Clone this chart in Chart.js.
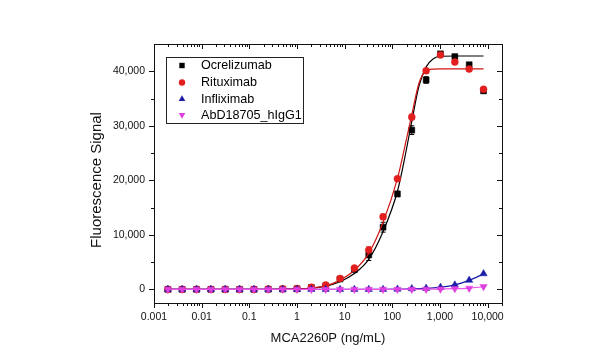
<!DOCTYPE html>
<html><head><meta charset="utf-8">
<script src="https://cdn.jsdelivr.net/npm/chart.js@4/dist/chart.umd.min.js"></script>
<style>html,body{margin:0;padding:0;background:#fff;}</style>
</head><body>
<canvas id="c" width="600" height="355"></canvas>
<script>
// ---- data ----
const concentrations = [0.001953, 0.003906, 0.007813, 0.015625, 0.03125, 0.0625, 0.125, 0.25, 0.5, 1, 2, 4, 8, 16, 32, 64, 128, 256, 512, 1024, 2048, 4096, 8192];
const ocrelizumab     = [0, 0, 0, 0, 0, 0, 0, 20, 50, 100, 350, 600, 1900, 3600, 6300, 11400, 17500, 29200, 38400, 43200, 42700, 41200, 36400];
const ocrelizumabErr  = [0, 0, 0, 0, 0, 0, 0, 0, 0, 0, 100, 150, 200, 300, 1000, 900, 500, 800, 600, 300, 300, 400, 400];
const rituximab       = [0, 0, 0, 0, 0, 0, 0, 50, 100, 150, 400, 800, 2000, 3900, 7200, 13300, 20300, 31600, 40100, 43000, 41700, 40400, 36700];
const rituximabErr    = [0, 0, 0, 0, 0, 0, 0, 0, 0, 0, 100, 150, 200, 300, 600, 500, 400, 500, 400, 300, 400, 400, 400];
const infliximab      = [0, 0, 0, 0, 0, 0, 0, 0, 0, 0, 0, 0, 0, 0, 0, 0, 50, 130, 200, 380, 810, 1670, 2870];
const abd18705        = [0, 0, 0, 0, 0, 0, 0, 0, 0, 0, 0, 0, 0, 0, 0, 0, 0, 0, 20, 50, 130, 200, 500];

const fitConcentrations = [0.001953, 0.003906, 0.007813, 0.015625, 0.03125, 0.0625, 0.125, 0.25, 0.5, 1, 2, 4, 8, 16, 32, 64, 128, 181, 256, 362, 512, 724, 1024, 2048, 4096, 8192];
const ocrelizumabFit  = [0, 0, 0, 0, 0, 5, 10, 20, 40, 100, 250, 600, 1400, 2900, 5500, 10600, 18000, 24000, 30800, 37300, 40800, 42300, 42750, 42800, 42800, 42800];
const rituximabFit    = [0, 0, 0, 0, 0, 5, 10, 20, 40, 100, 250, 650, 1700, 3500, 6600, 12300, 20300, 26000, 32000, 37800, 40100, 40400, 40450, 40450, 40450, 40450];
const infliximabFit   = [0, 0, 0, 0, 0, 0, 0, 0, 0, 0, 0, 0, 0, 0, 0, 10, 40, 60, 100, 140, 200, 280, 400, 830, 1650, 2850];
const abd18705Fit     = [0, 0, 0, 0, 0, 0, 0, 0, 0, 0, 0, 0, 0, 0, 0, 0, 0, 5, 10, 15, 25, 35, 60, 120, 230, 480];

const seriesNames = ['Ocrelizumab', 'Rituximab', 'Infliximab', 'AbD18705_hIgG1'];
const xTickValues = [0.001, 0.01, 0.1, 1, 10, 100, 1000, 10000];
const xTickLabels = ['0.001', '0.01', '0.1', '1', '10', '100', '1,000', '10,000'];
const yTickValues = [0, 10000, 20000, 30000, 40000];
const yTickLabels = ['0', '10,000', '20,000', '30,000', '40,000'];
const xTitle = 'MCA2260P (ng/mL)';
const yTitle = 'Fluorescence Signal';

// ---- styles ----
const FONT = "'Liberation Sans', Arial, sans-serif";
const styles = [
  {color: '#000000', line: '#000000', pointStyle: 'rect', radius: 4.2, rotation: 0},
  {color: '#e21f1f', line: '#d01515', pointStyle: 'circle', radius: 3.5, rotation: 0},
  {color: '#1c1ca8', line: '#1c1ca8', pointStyle: 'triangle', radius: 4.2, rotation: 0},
  {color: '#e03fe0', line: '#ee50ee', pointStyle: 'triangle', radius: 4.2, rotation: 180}
];
const pointSeries = [ocrelizumab, rituximab, infliximab, abd18705];
const errSeries = [ocrelizumabErr, rituximabErr, null, null];
const fitSeries = [ocrelizumabFit, rituximabFit, infliximabFit, abd18705Fit];

const datasets = [];
pointSeries.forEach((s, k) => {
  const st = styles[k];
  datasets.push({
    label: seriesNames[k],
    data: concentrations.map((x, i) => ({x, y: s[i]})),
    showLine: false,
    pointStyle: st.pointStyle,
    pointRotation: st.rotation,
    pointRadius: st.radius,
    pointBackgroundColor: st.color,
    pointBorderColor: st.color,
    pointBorderWidth: 0.5,
    errors: errSeries[k],
    order: (3 - k) * 2
  });
  datasets.push({
    label: seriesNames[k] + ' fit',
    data: fitConcentrations.map((x, i) => ({x, y: fitSeries[k][i]})),
    showLine: true,
    pointRadius: 0,
    borderColor: st.line,
    borderWidth: 1.2,
    cubicInterpolationMode: 'monotone',
    order: (3 - k) * 2 + 1
  });
});

const frame = {
  id: 'frame',
  beforeDatasetsDraw(chart) {
    const ctx = chart.ctx;
    const ys = chart.scales.y;
    chart.data.datasets.forEach((ds, di) => {
      if (!ds.errors) return;
      const meta = chart.getDatasetMeta(di);
      ctx.save();
      ctx.strokeStyle = ds.pointBackgroundColor;
      ctx.lineWidth = 1;
      meta.data.forEach((pt, i) => {
        const e = ds.errors[i];
        if (!e) return;
        const v = ds.data[i].y;
        const y1 = ys.getPixelForValue(v - e), y2 = ys.getPixelForValue(v + e);
        ctx.beginPath();
        ctx.moveTo(pt.x, y1); ctx.lineTo(pt.x, y2);
        ctx.moveTo(pt.x - 2.5, y1); ctx.lineTo(pt.x + 2.5, y1);
        ctx.moveTo(pt.x - 2.5, y2); ctx.lineTo(pt.x + 2.5, y2);
        ctx.stroke();
      });
      ctx.restore();
    });
  },
  afterDraw(chart) {
    const ctx = chart.ctx;
    const a = chart.chartArea;
    const xs = chart.scales.x, ys = chart.scales.y;
    ctx.save();
    ctx.strokeStyle = '#111';
    ctx.lineWidth = 1;
    ctx.beginPath();
    ctx.rect(Math.round(a.left) + 0.5, Math.round(a.top) + 0.5, Math.round(a.right - a.left), Math.round(a.bottom - a.top));
    ctx.stroke();
    ctx.beginPath();
    for (let e = -3; e <= 4; e++) {
      for (let m = 1; m <= 9; m++) {
        const v = m * Math.pow(10, e);
        if (v < xs.min || v > xs.max) continue;
        const px = Math.round(xs.getPixelForValue(v)) + 0.5;
        const len = m === 1 ? 5 : 3;
        ctx.moveTo(px, a.bottom); ctx.lineTo(px, a.bottom + len);
        ctx.moveTo(px, a.top); ctx.lineTo(px, a.top + len);
      }
    }
    for (let v = 0; v <= 40000; v += 5000) {
      const py = Math.round(ys.getPixelForValue(v)) + 0.5;
      const len = v % 10000 === 0 ? 5 : 3;
      ctx.moveTo(a.left, py); ctx.lineTo(a.left - len, py);
      ctx.moveTo(a.right, py); ctx.lineTo(a.right - len, py);
    }
    ctx.stroke();

    // axis titles
    ctx.fillStyle = '#111';
    ctx.textAlign = 'center';
    ctx.textBaseline = 'middle';
    ctx.font = '13px ' + FONT;
    ctx.fillText(xTitle, (a.left + a.right) / 2, 338);
    ctx.save();
    ctx.translate(97, 180);
    ctx.rotate(-Math.PI / 2);
    ctx.font = '15px ' + FONT;
    ctx.fillText(yTitle, 0, 0);
    ctx.restore();

    // legend
    const lx = 166.5, ly = 57.5, lw = 137, lh = 66;
    ctx.strokeStyle = '#222';
    ctx.strokeRect(lx, ly, lw, lh);
    const rows = [65.5, 82.5, 99, 115];
    ctx.font = '12.6px ' + FONT;
    ctx.textBaseline = 'middle';
    ctx.textAlign = 'left';
    seriesNames.forEach((name, k) => {
      const st = styles[k];
      const cx = 182, cy = rows[k];
      ctx.fillStyle = st.color;
      ctx.beginPath();
      if (st.pointStyle === 'rect') {
        ctx.rect(cx - 2.7, cy - 2.7, 5.4, 5.4);
      } else if (st.pointStyle === 'circle') {
        ctx.arc(cx, cy, 3.2, 0, Math.PI * 2);
      } else {
        const r = 3.8, dir = st.rotation ? -1 : 1;
        ctx.moveTo(cx, cy - dir * r);
        ctx.lineTo(cx - r * 0.866, cy + dir * r * 0.5);
        ctx.lineTo(cx + r * 0.866, cy + dir * r * 0.5);
        ctx.closePath();
      }
      ctx.fill();
      ctx.fillStyle = '#000';
      ctx.fillText(name, 201, cy + 0.5);
    });
    ctx.restore();
  }
};

new Chart(document.getElementById('c'), {
  type: 'scatter',
  data: {datasets},
  options: {
    responsive: false,
    animation: false,
    layout: {padding: {left: 0, top: 44, right: 98, bottom: 0}},
    plugins: {legend: {display: false}, tooltip: {enabled: false}},
    scales: {
      x: {
        type: 'logarithmic',
        min: 0.001,
        max: 20000,
        afterBuildTicks: (axis) => { axis.ticks = xTickValues.map(v => ({value: v, major: true})); },
        afterFit: (axis) => { axis.height = 52; },
        ticks: {
          autoSkip: false, maxRotation: 0, padding: 3,
          color: '#111', font: {family: FONT, size: 10.5},
          callback: (v, i) => xTickLabels[i]
        },
        grid: {display: true, drawOnChartArea: false, drawTicks: true, tickLength: 5, color: 'transparent', tickColor: 'transparent'},
        border: {display: false},
        title: {display: false}
      },
      y: {
        type: 'linear',
        min: -2500,
        max: 45000,
        afterBuildTicks: (axis) => { axis.ticks = yTickValues.map(v => ({value: v})); },
        afterFit: (axis) => { axis.width = 154; },
        ticks: {
          padding: 4,
          color: '#111', font: {family: FONT, size: 10.5},
          callback: (v, i) => yTickLabels[i]
        },
        grid: {display: true, drawOnChartArea: false, drawTicks: true, tickLength: 5, color: 'transparent', tickColor: 'transparent'},
        border: {display: false},
        title: {display: false}
      }
    }
  },
  plugins: [frame]
});
</script>
</body></html>
